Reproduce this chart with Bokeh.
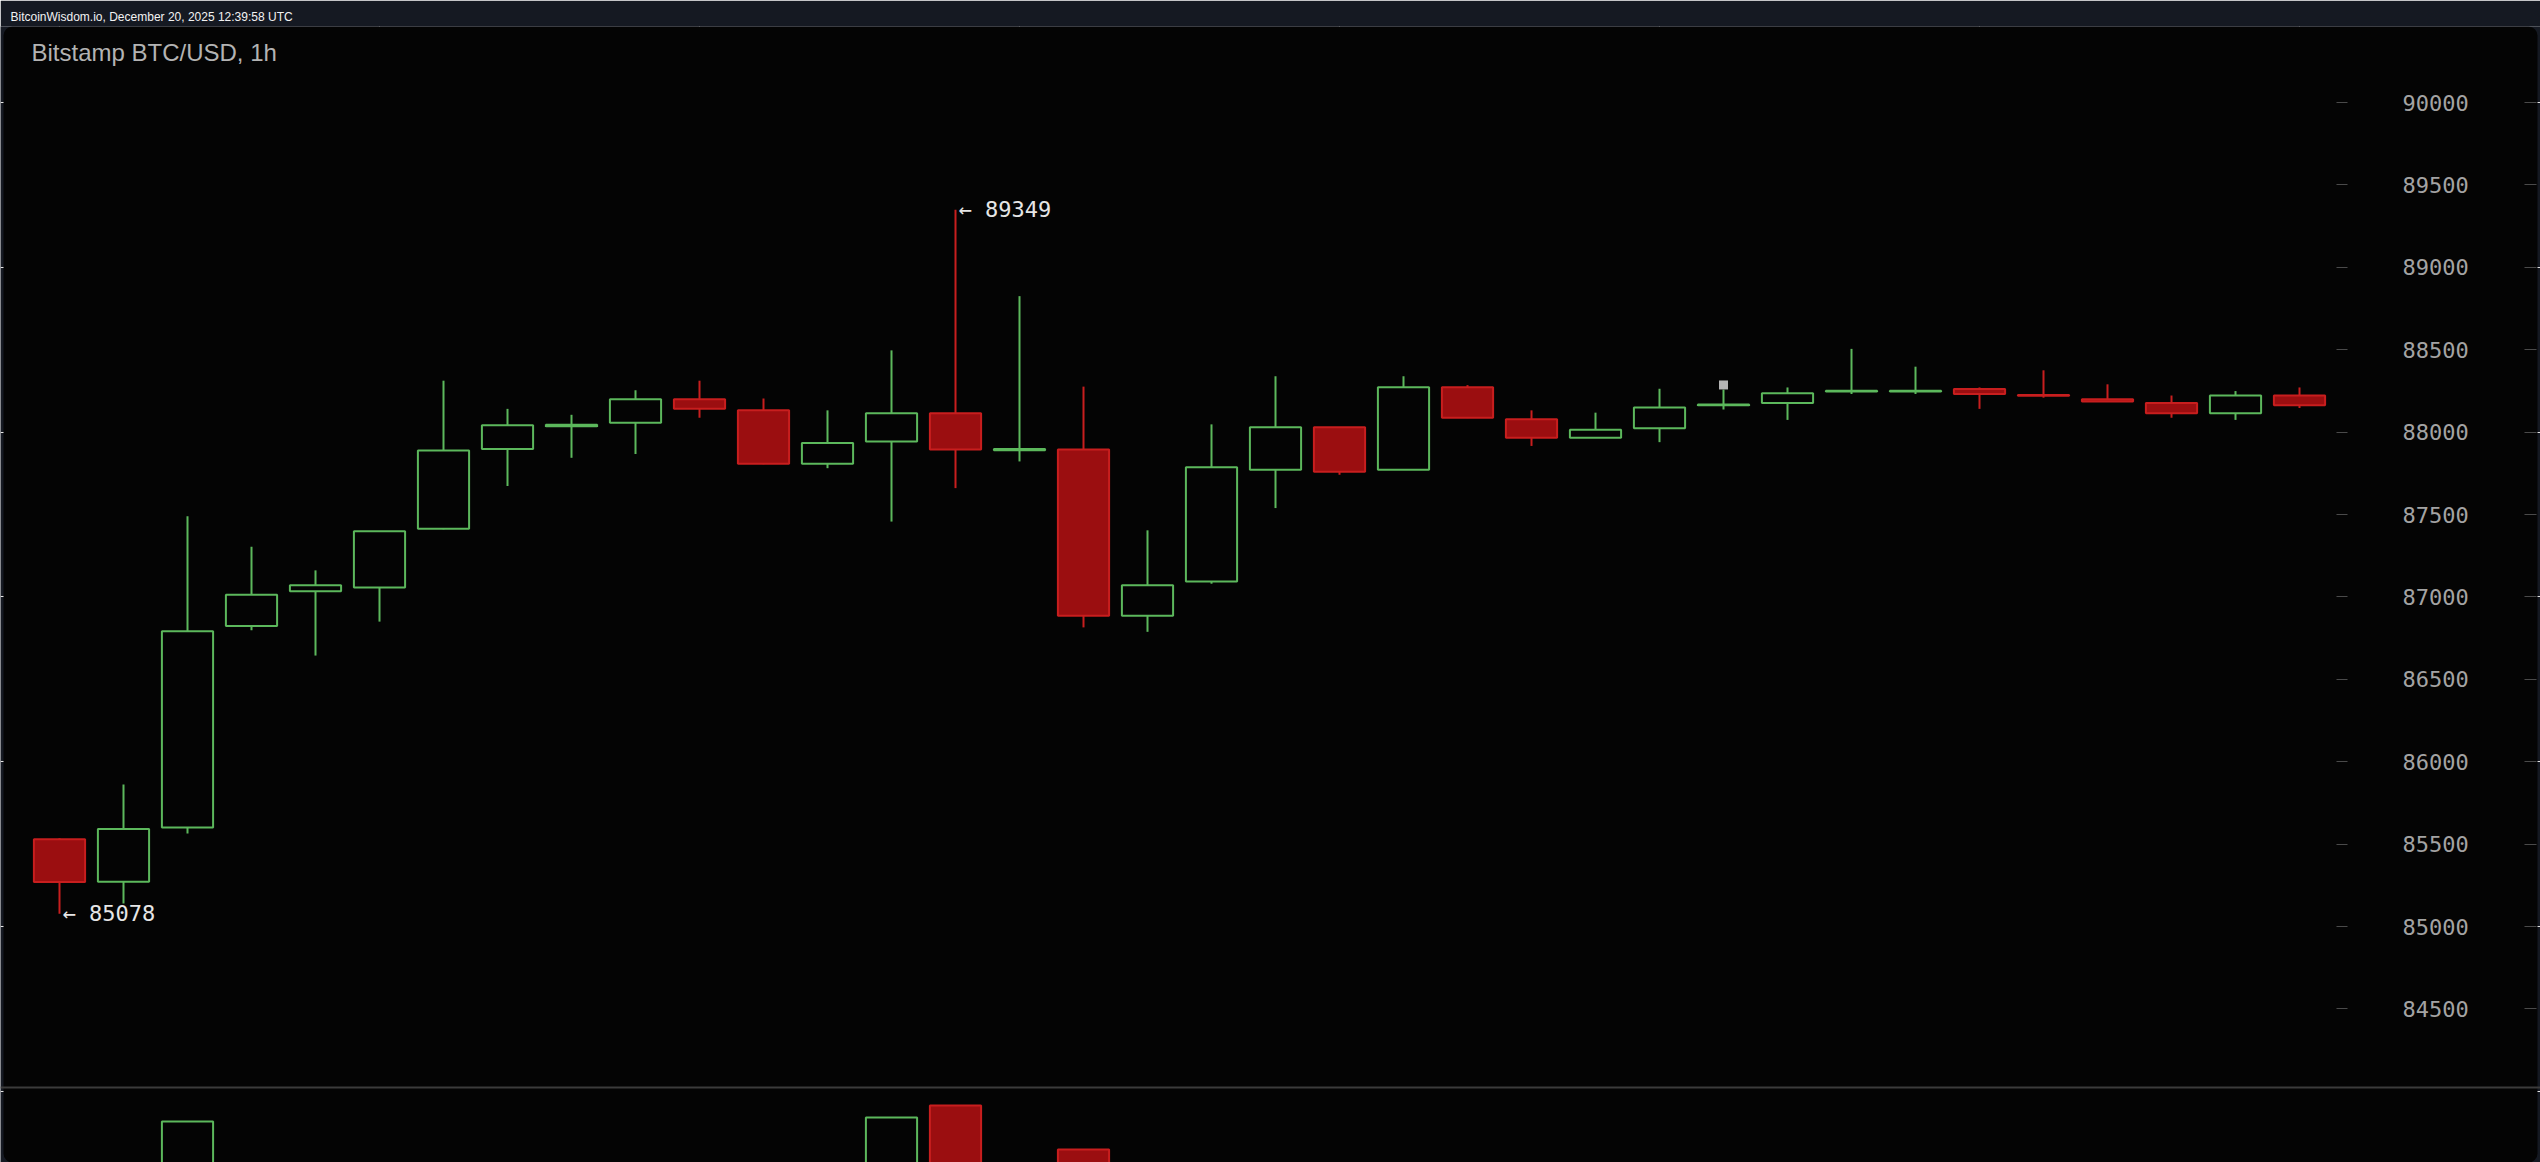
from bokeh.plotting import figure
from bokeh.models import (Range1d, LinearAxis, FixedTicker, BoxAnnotation, Label,
                          Span, CustomJSTickFormatter)
from bokeh.core.properties import value
from bokeh.embed import file_html
from bokeh.resources import INLINE

# ---------------- data ----------------
opens  = [85530, 85272, 85600, 86823, 87035, 87057, 87413, 87898, 88035, 88056,
          88200, 88132, 87808, 87943, 88114, 87890, 87894, 86886, 87093, 87772,
          88029, 87772, 88272, 88078, 87966, 88024, 88163, 88177, 88247, 88247,
          88262, 88225, 88200, 88177, 88114, 88222]
highs  = [85535, 85861, 87489, 87305, 87161, 87400, 88312, 88141, 88105, 88254,
          88312, 88204, 88132, 88496, 89349, 88825, 88276, 87404, 88047, 88339,
          88031, 88339, 88285, 88132, 88118, 88263, 88258, 88271, 88505, 88397,
          88271, 88375, 88290, 88222, 88249, 88271]
lows   = [85078, 85140, 85564, 86797, 86644, 86850, 87410, 87673, 87844, 87867,
          88087, 87805, 87781, 87457, 87660, 87822, 86815, 86788, 87080, 87539,
          87741, 87770, 88085, 87916, 87965, 87939, 88137, 88074, 88231, 88231,
          88141, 88209, 88185, 88087, 88074, 88146]
closes = [85270, 85591, 86792, 87013, 87071, 87399, 87889, 88042, 88045, 88200,
          88141, 87808, 87934, 88114, 87894, 87898, 86886, 87071, 87786, 88029,
          87759, 88272, 88087, 87966, 88015, 88150, 88167, 88236, 88251, 88251,
          88231, 88220, 88186, 88114, 88222, 88163]
volumes = [310, 260, 563, 180, 150, 160, 240, 200, 110, 130,
           90, 210, 120, 577, 617, 300, 470, 220, 260, 210,
           150, 190, 120, 100, 80, 90, 70, 60, 80, 50,
           60, 40, 45, 70, 50, 40]
price_ticks = [84500, 85000, 85500, 86000, 86500, 87000, 87500,
               88000, 88500, 89000, 89500, 90000]
ann_idx = [0, 14]
ann_price = [85078, 89349]
ann_text = ["\u2190 85078", "\u2190 89349"]
marker_idx = [26]
marker_price = [88286]
header_text = "BitcoinWisdom.io, December 20, 2025 12:39:58 UTC"
chart_title = "Bitstamp BTC/USD, 1h"

# ---------------- styling / geometry ----------------
NAVY = "#151922"
BLACK = "#040404"
GREEN = "#5cb85c"
RED_FILL = "#9b0e10"
RED_LINE = "#c81e1e"

W, H = 2540, 1162
TOP = 26
PX_PER_BAR = 64.0
x0 = -59.0 / PX_PER_BAR
x1 = x0 + W / PX_PER_BAR
def xpx(px):
    return x0 + px / PX_PER_BAR

PX_PER_USD = 82.4 / 500.0
def ypx(py):
    return 90000 + (102 - py) / PX_PER_USD

p_top, p_bot = ypx(TOP), ypx(H)
v_per_px = 3.333
v_bot = (1290 - H) * v_per_px
v_top = (1290 - TOP) * v_per_px

p = figure(width=W, height=H, output_backend="svg", toolbar_location=None,
           x_range=Range1d(x0, x1), y_range=Range1d(p_bot, p_top),
           x_axis_location=None, y_axis_location=None,
           min_border_left=0, min_border_right=0, min_border_top=TOP,
           min_border_bottom=0, background_fill_color=NAVY,
           border_fill_color=NAVY, outline_line_color=None)
p.extra_y_ranges = {"vol": Range1d(v_bot, v_top)}

p.title.text = header_text
p.title.text_font = "Liberation Sans"
p.title.text_font_size = "12px"
p.title.text_font_style = "normal"
p.title.text_color = "#f2f2f2"
p.title.align = "left"
p.title.offset = 10
p.title.standoff = 6

panel = BoxAnnotation(left=xpx(3), right=xpx(2537), top=None, bottom=None,
                      fill_color=BLACK, fill_alpha=1.0, line_color=None,
                      border_radius=9, level="underlay")
p.add_layout(panel)
p.add_layout(Span(location=ypx(1087), dimension="width", line_color="#3b3b3b",
                  line_width=2, level="underlay"))

idx = list(range(len(opens)))
up = [c >= o for o, c in zip(opens, closes)]
body_top = [max(o, c) for o, c in zip(opens, closes)]
body_bot = [min(o, c) for o, c in zip(opens, closes)]
col = [GREEN if u else RED_LINE for u in up]

# wicks (upper and lower, not crossing hollow bodies)
p.segment(x0=idx, y0=body_top, x1=idx, y1=highs, line_color=col, line_width=2)
p.segment(x0=idx, y0=lows, x1=idx, y1=body_bot, line_color=col, line_width=2)

gi = [i for i in idx if up[i]]
ri = [i for i in idx if not up[i]]
p.vbar(x=gi, width=0.8, top=[closes[i] for i in gi], bottom=[opens[i] for i in gi],
       fill_color=None, line_color=GREEN, line_width=2)
p.vbar(x=ri, width=0.8, top=[opens[i] for i in ri], bottom=[closes[i] for i in ri],
       fill_color=RED_FILL, line_color=RED_LINE, line_width=2)

# volume (rect glyphs, centred at half height)
p.rect(x=gi, y=[volumes[i] / 2 for i in gi], width=0.8, height=[volumes[i] for i in gi],
       y_range_name="vol", fill_color=None, line_color=GREEN, line_width=2)
p.rect(x=ri, y=[volumes[i] / 2 for i in ri], width=0.8, height=[volumes[i] for i in ri],
       y_range_name="vol", fill_color=RED_FILL, line_color=RED_LINE, line_width=2)

p.scatter(x=marker_idx, y=marker_price, marker="square", size=9,
          fill_color="#b5b5b5", line_color=None)

p.text(x=ann_idx, y=ann_price, text=ann_text, text_font=value("DejaVu Sans Mono"),
       text_font_size=value("22px"), text_color="#e6e6e6", text_align="left",
       text_baseline="middle", x_offset=3)

p.add_layout(Label(x=xpx(31), y=ypx(52), text=chart_title, text_font="Liberation Sans",
                   text_font_size="24px", text_color="#b3b3b3",
                   text_baseline="alphabetic", text_align="left"))

ax = LinearAxis(ticker=FixedTicker(ticks=price_ticks), fixed_location=xpx(2336))
ax.axis_line_color = None
ax.major_tick_line_color = "#4a4a4a"
ax.major_tick_line_width = 1
ax.major_tick_out = 11
ax.major_tick_in = 0
ax.minor_tick_line_color = None
ax.major_label_standoff = 55
ax.major_label_text_font = "DejaVu Sans Mono"
ax.major_label_text_font_size = "22px"
ax.major_label_text_color = "#a3a3a3"
p.add_layout(ax, "right")

ax2 = LinearAxis(ticker=FixedTicker(ticks=price_ticks), fixed_location=xpx(2524),
                 formatter=CustomJSTickFormatter(code="return ''"))
ax2.axis_line_color = None
ax2.major_tick_line_color = "#4a4a4a"
ax2.major_tick_line_width = 1
ax2.major_tick_out = 12
ax2.major_tick_in = 0
ax2.minor_tick_line_color = None
p.add_layout(ax2, "right")

open("out.html", "w").write(file_html(p, INLINE))
